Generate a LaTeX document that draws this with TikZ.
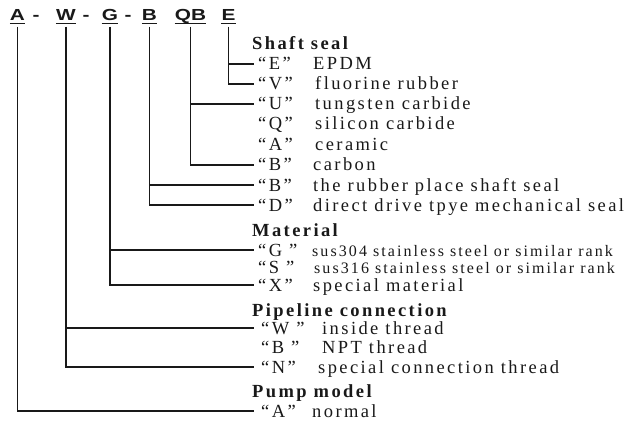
\documentclass[tikz,border=0pt]{standalone}
\usepackage{fontspec}
\setmainfont{Liberation Serif}
\newfontfamily\labelfont[LetterSpace=13]{Liberation Serif}
\newfontfamily\codefont[FakeStretch=1.3]{Liberation Sans}
\usetikzlibrary{positioning}
\definecolor{ink}{RGB}{25, 25, 25}

\begin{document}
\begin{tikzpicture}[
    x=1pt, y=-1pt,
    % Global styles
    every node/.style={text=ink},
    % Model code letters
    letter/.style={
        font={\codefont\fontsize{16}{18}\selectfont\bfseries},
        inner sep=0pt,
        anchor=base,
        text depth=2.5pt
    },
    % Option rows
    key/.style={
        font={\labelfont\fontsize{18.5}{20}\selectfont},
        anchor=west,
        inner xsep=4pt,
        inner ysep=0pt,
        text height=14pt,
        text depth=2pt
    },
    desc/.style={key, inner xsep=0pt},
    small/.style={desc, font={\labelfont\fontsize{16}{18}\selectfont}},
    head/.style={key, inner xsep=0pt, font={\labelfont\fontsize{18.5}{20}\selectfont\bfseries}},
    conn/.style={draw=ink, line width=1.1pt},
    uline/.style={draw=ink, line width=0.8pt}
]

\useasboundingbox (0,0) rectangle (636,422);

% --- Model code ---
\node (tA) [letter] at (17.5,21) {A};
\node (d1) [letter] at (36,21) {-};
\node (tW) [letter] at (66,21) {W};
\node (d2) [letter] at (86,21) {-};
\node (tG) [letter] at (110,21) {G};
\node (d3) [letter] at (128,21) {-};
\node (tB) [letter] at (149.5,21) {B};
\node (tQB) [letter] at (190.5,21) {QB};
\node (tE) [letter] at (228.5,21) {E};

\foreach \n in {tA, tW, tG, tB, tQB, tE}
    \draw [uline] (\n.south west) -- (\n.south east);

% --- Shaft seal ---
\node (hShaft) [head] at (252,44) {Shaft seal};
\node (qE) [key] at (254,64) {“E”};
\node (dE) [desc] at (313,64) {EPDM};
\node (qV) [key] at (254,84) {“V”};
\node (dV) [desc] at (315,84) {fluorine rubber};
\node (qU) [key] at (254,104) {“U”};
\node (dU) [desc] at (315,104) {tungsten carbide};
\node (qQ) [key] at (254,124) {“Q”};
\node (dQ) [desc] at (315,124) {silicon carbide};
\node (qA1) [key] at (254,144) {“A”};
\node (dA1) [desc] at (315,144) {ceramic};
\node (qB1) [key] at (254,165) {“B”};
\node (dB1) [desc] at (313,165) {carbon};
\node (qB2) [key] at (254,185) {“B”};
\node (dB2) [desc] at (313,185) {the rubber place shaft seal};
\node (qD) [key] at (254,205) {“D”};
\node (dD) [desc] at (313,205) {direct drive tpye mechanical seal};

% --- Material ---
\node (hMat) [head] at (252,230) {Material};
\node (qG) [key] at (254,250) {“G ”};
\node (dG) [small] at (312,250) {sus304 stainless steel or similar rank};
\node (qS) [key] at (254,267.5) {“S ”};
\node (dS) [small] at (314,267.5) {sus316 stainless steel or similar rank};
\node (qX) [key] at (254,285) {“X”};
\node (dX) [desc] at (313,285) {special material};

% --- Pipeline connection ---
\node (hPipe) [head] at (252,310) {Pipeline connection};
\node (qW) [key, inner xsep=7pt] at (254,328) {“W ”};
\node (dW) [desc] at (322,328) {inside thread};
\node (qB3) [key, inner xsep=7pt] at (254,347.5) {“B ”};
\node (dB3) [desc] at (322,347.5) {NPT thread};
\node (qN) [key, inner xsep=7pt] at (254,367) {“N”};
\node (dN) [desc] at (318,367) {special connection thread};

% --- Pump model ---
\node (hPump) [head] at (252,391) {Pump model};
\node (qA2) [key, inner xsep=7pt] at (254,411) {“A”};
\node (dA2) [desc] at (312,411) {normal};

% --- Connectors ---
\draw [conn] ([yshift=-3pt]tE.south) |- (qV.west);
\draw [conn] (tE.south |- qE.west) -- (qE.west);

\draw [conn] ([yshift=-3pt]tQB.south) |- (qB1.west);
\draw [conn] (tQB.south |- qU.west) -- (qU.west);

\draw [conn] ([yshift=-3pt]tB.south) |- (qD.west);
\draw [conn] (tB.south |- qB2.west) -- (qB2.west);

\draw [conn] ([yshift=-3pt]tG.south) |- (qX.west);
\draw [conn] (tG.south |- qG.west) -- (qG.west);

\draw [conn] ([yshift=-3pt]tW.south) |- (qN.west);
\draw [conn] (tW.south |- qW.west) -- (qW.west);

\draw [conn] ([yshift=-3pt]tA.south) |- (qA2.west);

\end{tikzpicture}
\end{document}
